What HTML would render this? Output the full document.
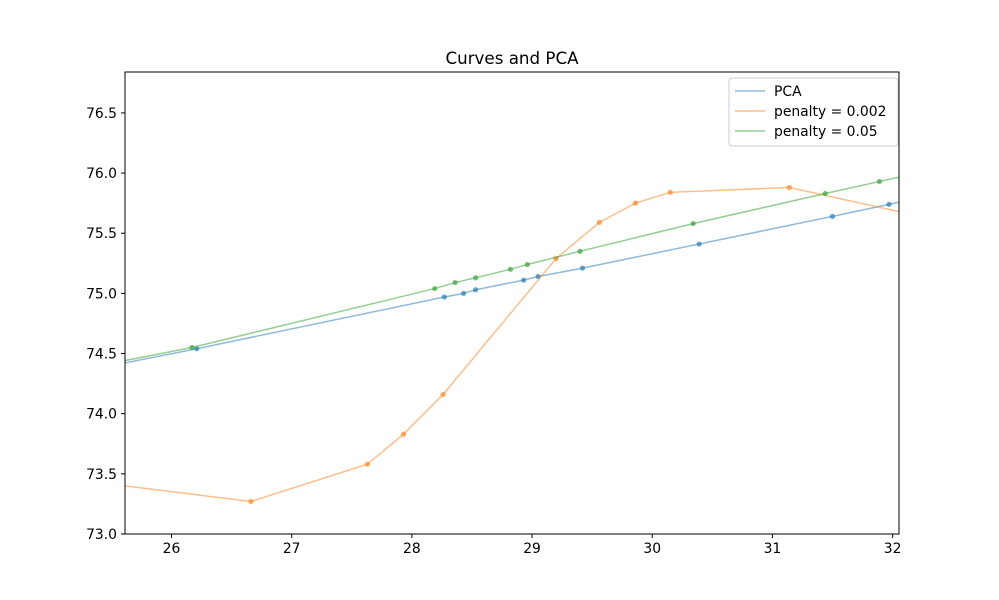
<!DOCTYPE html>
<html><head><meta charset="utf-8"><style>body{margin:0;background:#fff}svg{display:block;font-family:"DejaVu Sans","Liberation Sans",sans-serif}</style></head>
<body>
<svg id="chart" width="999" height="600">
<defs><clipPath id="clip"><rect x="125" y="72" width="774" height="462"/></clipPath></defs>
<rect x="0" y="0" width="999" height="600" fill="#fff"/>
<text x="512" y="64" font-size="16.7" text-anchor="middle">Curves and PCA</text>
<g id="series" clip-path="url(#clip)"></g>
<rect x="125" y="72" width="774" height="462" fill="none" stroke="#000" stroke-width="1"/>
<g id="axes"></g>
<g>
<rect x="729" y="78" width="169" height="68" rx="3" fill="#fff" fill-opacity="0.8" stroke="#ccc"/>
<line x1="735" y1="91" x2="765" y2="91" stroke="#1f77b4" stroke-opacity="0.5" stroke-width="1.5"/>
<text x="774" y="96" font-size="13.9">PCA</text>
<line x1="735" y1="111" x2="765" y2="111" stroke="#ff7f0e" stroke-opacity="0.5" stroke-width="1.5"/>
<text x="774" y="116" font-size="13.9">penalty = 0.002</text>
<line x1="735" y1="131" x2="765" y2="131" stroke="#2ca02c" stroke-opacity="0.5" stroke-width="1.5"/>
<text x="774" y="136" font-size="13.9">penalty = 0.05</text>
</g>
</svg>
<script>
const xTicks=[26,27,28,29,30,31,32];
const yTicks=[73.0,73.5,74.0,74.5,75.0,75.5,76.0,76.5];
const pcaX=[25.4,26.21,28.27,28.43,28.53,28.93,29.05,29.42,30.39,31.50,31.97,32.3];
const pcaY=[74.38,74.54,74.97,75.00,75.03,75.11,75.14,75.21,75.41,75.64,75.74,75.81];
const orX=[25.61,26.66,27.63,27.93,28.26,29.20,29.56,29.86,30.15,31.14,32.05];
const orY=[73.40,73.27,73.58,73.83,74.16,75.29,75.59,75.75,75.84,75.88,75.68];
const grX=[25.4,26.17,28.19,28.36,28.53,28.82,28.96,29.40,30.34,31.44,31.89,32.3];
const grY=[74.40,74.55,75.04,75.09,75.13,75.20,75.24,75.35,75.58,75.83,75.93,76.02];
const pcaMarkIdx=[1,2,3,4,5,6,7,8,9,10];
const orMarkIdx=[1,2,3,4,5,6,7,8,9];
const grMarkIdx=[1,2,3,4,5,6,7,8,9,10];
const xmin=25.613,xmax=32.053,ymin=73.0,ymax=76.84;
const L=125,R=899,T=72,B=534;
const sx=v=>L+(v-xmin)/(xmax-xmin)*(R-L);
const sy=v=>B-(v-ymin)/(ymax-ymin)*(B-T);
const NS="http://www.w3.org/2000/svg";
const S=document.getElementById('series'),A=document.getElementById('axes');
function mk(t,a,p){const e=document.createElementNS(NS,t);for(const k in a)e.setAttribute(k,a[k]);p.appendChild(e);return e;}
function series(xs,ys,idx,c,name){
 const pl=mk('polyline',{points:xs.map((x,i)=>sx(x)+','+sy(ys[i])).join(' '),fill:'none',stroke:c,'stroke-opacity':0.5,'stroke-width':1.5},S);
 
 
 idx.forEach(i=>{const m=mk('circle',{cx:sx(xs[i]),cy:sy(ys[i]),r:2.6,fill:c,'fill-opacity':0.65},S);
  
  });
}
series(pcaX,pcaY,pcaMarkIdx,'#1f77b4','pca');
series(orX,orY,orMarkIdx,'#ff7f0e','penalty-0.002');
series(grX,grY,grMarkIdx,'#2ca02c','penalty-0.05');
xTicks.forEach(t=>{const x=sx(t);mk('line',{x1:x,y1:B,x2:x,y2:B+4,stroke:'#000'},A);
 const tx=mk('text',{x:x,y:B+19,'font-size':13.9,'text-anchor':'middle'},A);tx.textContent=t;
 
 });
yTicks.forEach(t=>{const y=sy(t);mk('line',{x1:L-4,y1:y,x2:L,y2:y,stroke:'#000'},A);
 const tx=mk('text',{x:L-8,y:y+5,'font-size':13.9,'text-anchor':'end'},A);tx.textContent=t.toFixed(1);
 
 });
</script>
</body></html>
